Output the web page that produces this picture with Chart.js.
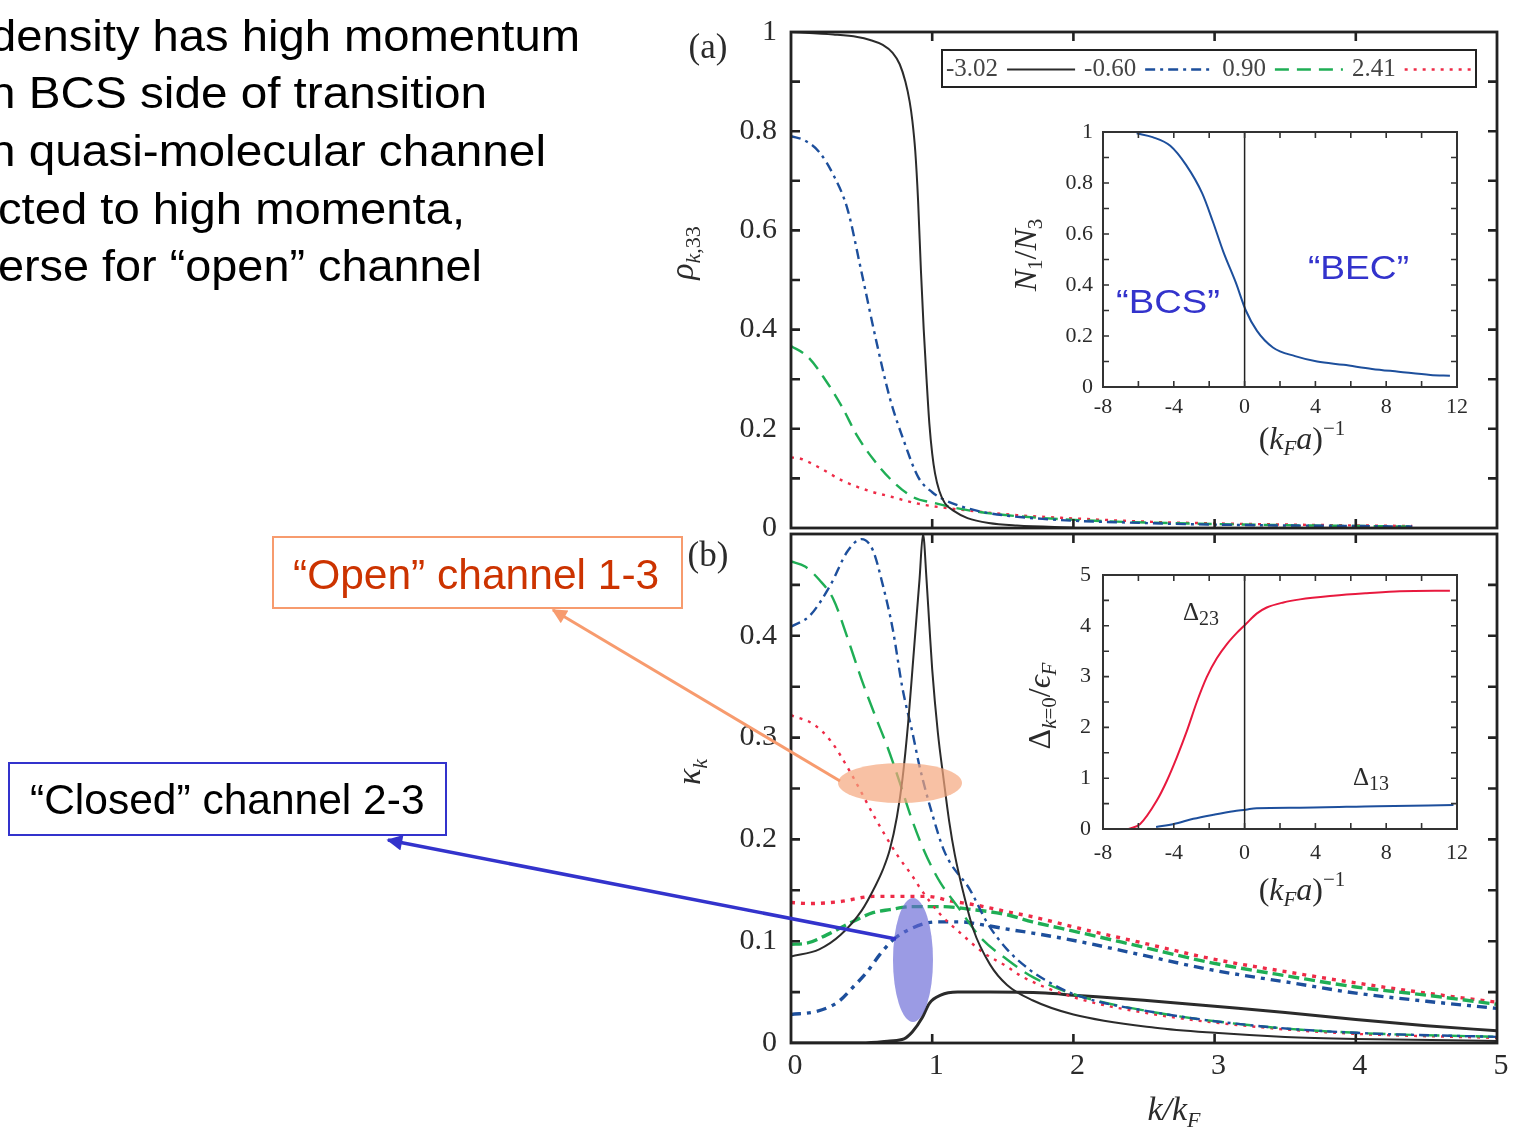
<!DOCTYPE html>
<html>
<head>
<meta charset="utf-8">
<title>Momentum distributions in the open and closed channels</title>
<script src="https://cdn.jsdelivr.net/npm/chart.js"></script>
<style>
  html, body { margin: 0; padding: 0; background: #fff; }
  body { width: 1518px; height: 1130px; position: relative; overflow: hidden; }
  canvas { position: absolute; }
  #overlay { position: absolute; left: 0; top: 0; }
</style>
</head>
<body>
<canvas id="panelA" width="918" height="560" style="left:600px;top:0px;width:918px;height:560px"></canvas>
<canvas id="panelB" width="918" height="630" style="left:600px;top:500px;width:918px;height:630px"></canvas>
<canvas id="insetA" width="510" height="370" style="left:980px;top:100px;width:510px;height:370px"></canvas>
<canvas id="insetB" width="510" height="370" style="left:980px;top:545px;width:510px;height:370px"></canvas>

<svg id="overlay" width="1518" height="1130" xmlns="http://www.w3.org/2000/svg">
  <defs>
    <marker id="headOrange" viewBox="0 0 10 10" refX="9" refY="5" markerWidth="5.5" markerHeight="5" orient="auto-start-reverse">
      <path d="M0,0 L10,5 L0,10 z" fill="#F79B6E"/>
    </marker>
    <marker id="headBlue" viewBox="0 0 10 10" refX="9" refY="5" markerWidth="5" markerHeight="4.5" orient="auto-start-reverse">
      <path d="M0,0 L10,5 L0,10 z" fill="#3333CC"/>
    </marker>
  </defs>

  <!-- slide text -->
  <g font-family="Liberation Sans, Arial, sans-serif" font-size="44.5" fill="#000">
    <text x="-10" y="51" textLength="590" lengthAdjust="spacingAndGlyphs">density has high momentum</text>
    <text x="-11" y="108" textLength="498" lengthAdjust="spacingAndGlyphs">n BCS side of transition</text>
    <text x="-11" y="166" textLength="557" lengthAdjust="spacingAndGlyphs">n quasi-molecular channel</text>
    <text x="-2" y="224" textLength="467" lengthAdjust="spacingAndGlyphs">cted to high momenta,</text>
    <text x="-2" y="281" textLength="484" lengthAdjust="spacingAndGlyphs">erse for “open” channel</text>
  </g>

  <!-- callout boxes -->
  <rect x="273" y="537" width="409" height="71" fill="#fff" stroke="#F79B6E" stroke-width="2"/>
  <text x="293" y="589" font-family="Liberation Sans, Arial, sans-serif" font-size="42.5" fill="#CC3300">“Open” channel 1-3</text>
  <rect x="9" y="763" width="437" height="72" fill="#fff" stroke="#3333CC" stroke-width="2"/>
  <text x="30" y="814" font-family="Liberation Sans, Arial, sans-serif" font-size="42.5" fill="#000">“Closed” channel 2-3</text>

  <!-- highlighted regions and pointers -->
  <ellipse cx="900" cy="783" rx="62" ry="20" fill="#F5A77E" fill-opacity="0.7"/>
  <ellipse cx="913" cy="960" rx="20" ry="62" fill="#6666D6" fill-opacity="0.65"/>
  <line x1="553" y1="610" x2="840" y2="781" stroke="#F79B6E" stroke-width="3" marker-start="url(#headOrange)"/>
  <line x1="388" y1="840" x2="896" y2="939" stroke="#3333CC" stroke-width="3.5" marker-start="url(#headBlue)"/>

  <!-- figure labels -->
  <g font-family="Liberation Serif, Times New Roman, serif" fill="#2b2b2b">
    <text x="708" y="58" font-size="35" text-anchor="middle">(a)</text>
    <text x="708" y="566" font-size="35" text-anchor="middle">(b)</text>
    <text transform="translate(693,253) rotate(-90)" text-anchor="middle" font-size="34"><tspan font-style="italic">ρ</tspan><tspan font-size="22" dy="7" font-style="italic">k</tspan><tspan font-size="22">,33</tspan></text>
    <text transform="translate(700,772) rotate(-90)" text-anchor="middle" font-size="34" font-style="italic">κ<tspan font-size="22" dy="7">k</tspan></text>
    <text x="1174" y="1120" text-anchor="middle" font-size="34" font-style="italic">k/k<tspan font-size="22" dy="7">F</tspan></text>

    <text transform="translate(1036,255) rotate(-90)" text-anchor="middle" font-size="32"><tspan font-style="italic">N</tspan><tspan font-size="21" dy="6">1</tspan><tspan dy="-6">/</tspan><tspan font-style="italic">N</tspan><tspan font-size="21" dy="6">3</tspan></text>
    <text x="1302" y="449" text-anchor="middle" font-size="32">(<tspan font-style="italic">k</tspan><tspan font-size="21" dy="6" font-style="italic">F</tspan><tspan dy="-6" font-style="italic">a</tspan>)<tspan font-size="21" dy="-14">−1</tspan></text>

    <text transform="translate(1050,706) rotate(-90)" text-anchor="middle" font-size="32">Δ<tspan font-size="21" dy="6" font-style="italic">k</tspan><tspan font-size="21">=0</tspan><tspan dy="-6">/</tspan><tspan font-style="italic">ϵ</tspan><tspan font-size="21" dy="6" font-style="italic">F</tspan></text>
    <text x="1302" y="900" text-anchor="middle" font-size="32">(<tspan font-style="italic">k</tspan><tspan font-size="21" dy="6" font-style="italic">F</tspan><tspan dy="-6" font-style="italic">a</tspan>)<tspan font-size="21" dy="-14">−1</tspan></text>

    <text x="1183" y="620" font-size="25">Δ<tspan font-size="20" dy="5">23</tspan></text>
    <text x="1353" y="785" font-size="25">Δ<tspan font-size="20" dy="5">13</tspan></text>
  </g>
  <g font-family="Liberation Sans, Arial, sans-serif" font-size="34" fill="#3333CC">
    <text x="1116" y="313" textLength="104" lengthAdjust="spacingAndGlyphs">“BCS”</text>
    <text x="1308" y="279" textLength="101" lengthAdjust="spacingAndGlyphs">“BEC”</text>
  </g>
</svg>

<script>
// ---------- (a) occupation rho_k,33 against k/k_F, one curve per (k_F a)^-1 ----------
const couplings = ['-3.02', '-0.60', '0.90', '2.41'];

const kA_m302 = [0, 0.3, 0.47, 0.56, 0.65, 0.72, 0.77, 0.81, 0.84, 0.86, 0.88, 0.9, 0.92, 0.94, 0.96, 0.98, 1.0, 1.02, 1.05, 1.09, 1.15, 1.25, 1.4, 1.6, 2.0];
const rhoA_m302 = [1.0, 0.995, 0.99, 0.984, 0.974, 0.958, 0.935, 0.9, 0.86, 0.82, 0.76, 0.66, 0.52, 0.4, 0.3, 0.21, 0.15, 0.11, 0.075, 0.05, 0.035, 0.02, 0.01, 0.005, 0.001];

const kA_m060 = [0, 0.1, 0.2, 0.3, 0.4, 0.5, 0.6, 0.7, 0.8, 0.9, 1.0, 1.1, 1.2, 1.4, 1.8, 2.5, 3.2, 4.0, 4.4];
const rhoA_m060 = [0.79, 0.781, 0.758, 0.712, 0.643, 0.515, 0.382, 0.262, 0.175, 0.103, 0.072, 0.055, 0.044, 0.03, 0.018, 0.01, 0.006, 0.004, 0.003];

const kA_p090 = [0, 0.12, 0.24, 0.36, 0.47, 0.59, 0.71, 0.86, 1.02, 1.25, 1.6, 2.2, 3.0, 3.7, 4.4];
const rhoA_p090 = [0.367, 0.345, 0.3, 0.245, 0.185, 0.136, 0.097, 0.063, 0.05, 0.036, 0.024, 0.014, 0.008, 0.005, 0.003];

const kA_p241 = [0, 0.05, 0.2, 0.36, 0.55, 0.71, 0.9, 1.14, 1.6, 2.1, 2.6, 3.5, 4.4];
const rhoA_p241 = [0.142, 0.141, 0.122, 0.096, 0.075, 0.063, 0.049, 0.039, 0.026, 0.018, 0.012, 0.007, 0.004];

// ---------- (b) kappa_k: open channel 1-3 (upper family) ----------
const kB_open_m302 = [0, 0.2, 0.35, 0.5, 0.6, 0.65, 0.7, 0.75, 0.79, 0.83, 0.86, 0.89, 0.91, 0.935, 0.96, 0.98, 1.0, 1.04, 1.08, 1.12, 1.16, 1.22, 1.29, 1.41, 1.53, 1.71, 2.0, 2.58, 3.0, 3.5, 4.0, 5.0];
const kapB_open_m302 = [0.085, 0.092, 0.106, 0.13, 0.155, 0.17, 0.19, 0.222, 0.26, 0.315, 0.367, 0.42, 0.455, 0.5, 0.455, 0.41, 0.367, 0.305, 0.26, 0.218, 0.185, 0.148, 0.112, 0.077, 0.057, 0.042, 0.028, 0.015, 0.01, 0.006, 0.004, 0.002];

const kB_open_m060 = [0, 0.135, 0.28, 0.4, 0.5, 0.58, 0.65, 0.72, 0.79, 0.86, 0.91, 1.0, 1.09, 1.27, 1.39, 1.53, 1.69, 1.8, 2.0, 2.58, 3.36, 4.0, 5.0];
const kapB_open_m060 = [0.409, 0.42, 0.45, 0.483, 0.495, 0.484, 0.45, 0.407, 0.348, 0.305, 0.272, 0.225, 0.187, 0.15, 0.118, 0.092, 0.072, 0.062, 0.048, 0.03, 0.016, 0.01, 0.006];

const kB_open_p090 = [0, 0.1, 0.2, 0.3, 0.4, 0.5, 0.6, 0.68, 0.77, 0.85, 0.93, 1.0, 1.06, 1.18, 1.34, 1.53, 1.71, 2.0, 2.58, 3.36, 4.0, 5.0];
const kapB_open_p090 = [0.473, 0.468, 0.455, 0.436, 0.398, 0.357, 0.32, 0.292, 0.256, 0.222, 0.193, 0.172, 0.157, 0.134, 0.104, 0.082, 0.065, 0.048, 0.03, 0.016, 0.01, 0.006];

const kB_open_p241 = [0, 0.16, 0.28, 0.42, 0.6, 0.76, 0.86, 0.91, 1.06, 1.2, 1.36, 1.53, 1.64, 2.0, 2.58, 3.36, 4.0, 5.0];
const kapB_open_p241 = [0.322, 0.313, 0.297, 0.266, 0.22, 0.183, 0.164, 0.153, 0.126, 0.108, 0.089, 0.075, 0.065, 0.045, 0.028, 0.015, 0.009, 0.005];

// ---------- (b) kappa_k: closed channel 2-3 (lower family) ----------
const kB_closed_m302 = [0, 0.5, 0.7, 0.8, 0.86, 0.93, 0.98, 1.06, 1.18, 1.41, 1.8, 2.0, 2.5, 3.0, 3.5, 4.0, 4.5, 5.0];
const kapB_closed_m302 = [0, 0, 0.002, 0.004, 0.011, 0.025, 0.039, 0.047, 0.05, 0.05, 0.049, 0.047, 0.042, 0.036, 0.03, 0.023, 0.017, 0.012];

const kB_closed_m060 = [0, 0.18, 0.33, 0.44, 0.54, 0.63, 0.72, 0.86, 1.03, 1.2, 1.36, 1.57, 1.71, 2.03, 2.5, 2.97, 3.55, 4.0, 4.5, 5.0];
const kapB_closed_m060 = [0.028, 0.031, 0.04, 0.055, 0.07, 0.087, 0.101, 0.113, 0.119, 0.119, 0.116, 0.111, 0.108, 0.1, 0.086, 0.072, 0.059, 0.049, 0.041, 0.034];

const kB_closed_p090 = [0, 0.11, 0.25, 0.42, 0.58, 0.7, 0.86, 1.06, 1.29, 1.53, 1.71, 2.03, 2.5, 2.97, 3.55, 4.0, 4.5, 5.0];
const kapB_closed_p090 = [0.097, 0.098, 0.106, 0.118, 0.128, 0.131, 0.134, 0.134, 0.131, 0.126, 0.119, 0.109, 0.094, 0.079, 0.065, 0.055, 0.047, 0.038];

const kB_closed_p241 = [0, 0.135, 0.35, 0.58, 0.75, 0.96, 1.15, 1.29, 1.53, 1.71, 2.03, 2.5, 2.97, 3.55, 4.0, 4.5, 5.0];
const kapB_closed_p241 = [0.138, 0.137, 0.139, 0.144, 0.144, 0.144, 0.139, 0.136, 0.129, 0.124, 0.113, 0.098, 0.083, 0.069, 0.059, 0.049, 0.04];

// ---------- insets: against (k_F a)^-1 ----------
const invKaN = [-6.1, -5.2, -4.2, -3.3, -2.4, -1.8, -1.2, -0.5, 0.07, 0.7, 1.6, 2.85, 4.1, 5.6, 7.2, 8.7, 10.5, 11.6];
const ratioN1N3 = [0.995, 0.98, 0.946, 0.87, 0.76, 0.65, 0.53, 0.41, 0.3, 0.22, 0.155, 0.121, 0.1, 0.087, 0.071, 0.06, 0.047, 0.044];

const invKaD23 = [-6.55, -5.9, -4.96, -4.39, -3.83, -3.26, -2.7, -2.14, -1.57, -1.0, -0.44, 0.06, 0.68, 1.25, 2.19, 3.13, 5.0, 6.89, 8.77, 11.6];
const gap23 = [0, 0.1, 0.56, 0.95, 1.41, 1.93, 2.5, 2.99, 3.36, 3.64, 3.86, 4.03, 4.24, 4.36, 4.46, 4.52, 4.59, 4.64, 4.68, 4.69];

const invKaD13 = [-5.0, -4.0, -2.9, -1.76, -0.63, 0.06, 0.68, 3.13, 7.5, 11.8];
const gap13 = [0.04, 0.1, 0.2, 0.28, 0.35, 0.38, 0.41, 0.42, 0.45, 0.47];

// unitary point (k_F a)^-1 = 0 marker lines
const unitaryX = [0, 0];
const unitaryYa = [0, 1];
const unitaryYb = [0, 5];

// ---------- styling ----------
const COL = { black: '#2b2b2b', blue: '#1d4f9c', green: '#1fae55', red: '#ee2b47', frame: '#222' };
const SERIF = 'Liberation Serif, Times New Roman, serif';

const styleA = [
  { borderColor: COL.black, borderWidth: 2, borderDash: [] },
  { borderColor: COL.blue, borderWidth: 2.4, borderDash: [10, 5, 3, 5] },
  { borderColor: COL.green, borderWidth: 2.4, borderDash: [14, 8] },
  { borderColor: COL.red, borderWidth: 2.4, borderDash: [3, 6] }
];
const styleClosed = [
  { borderColor: COL.black, borderWidth: 3, borderDash: [] },
  { borderColor: COL.blue, borderWidth: 3.4, borderDash: [10, 6, 4, 6] },
  { borderColor: COL.green, borderWidth: 3.4, borderDash: [11, 5] },
  { borderColor: COL.red, borderWidth: 3.4, borderDash: [4, 6] }
];

function series(label, xs, ys, style) {
  return Object.assign({
    label,
    data: xs.map((x, i) => ({ x, y: ys[i] })),
    pointRadius: 0,
    fill: false,
    cubicInterpolationMode: 'monotone'
  }, style);
}

function steps(from, to, step) {
  const out = [];
  for (let i = 0; from + i * step <= to + 1e-9; i++) out.push(+(from + i * step).toFixed(4));
  return out;
}

// frame around the plot area with inward tick marks on all four sides
const framePlugin = {
  id: 'frame',
  afterDatasetsDraw(chart, args, o) {
    const { ctx, chartArea: a } = chart;
    const xs = chart.scales.x, ys = chart.scales.y;
    ctx.save();
    ctx.setLineDash([]);
    ctx.strokeStyle = o.color;
    ctx.lineWidth = o.width;
    ctx.strokeRect(a.left, a.top, a.right - a.left, a.bottom - a.top);
    ctx.lineWidth = o.tickWidth;
    ctx.beginPath();
    o.xTicks.forEach(v => {
      const p = xs.getPixelForValue(v);
      ctx.moveTo(p, a.bottom); ctx.lineTo(p, a.bottom - o.len);
      ctx.moveTo(p, a.top); ctx.lineTo(p, a.top + o.len);
    });
    o.yTicks.forEach(v => {
      const p = ys.getPixelForValue(v);
      ctx.moveTo(a.left, p); ctx.lineTo(a.left + o.len, p);
      ctx.moveTo(a.right, p); ctx.lineTo(a.right - o.len, p);
    });
    ctx.stroke();
    ctx.restore();
  }
};

// single-row boxed legend: label followed by a sample of the line style
const rowLegend = {
  id: 'rowLegend',
  afterDraw(chart, args, o) {
    const ctx = chart.ctx;
    ctx.save();
    ctx.strokeStyle = COL.frame;
    ctx.lineWidth = 2;
    ctx.setLineDash([]);
    ctx.strokeRect(o.x, o.y, o.w, o.h);
    ctx.font = o.font;
    ctx.fillStyle = o.color;
    ctx.textBaseline = 'middle';
    const cy = o.y + o.h / 2 + 1;
    let cx = o.x + 4;
    chart.data.datasets.forEach(ds => {
      ctx.fillText(ds.label, cx, cy);
      cx += ctx.measureText(ds.label).width + o.gap;
      ctx.beginPath();
      ctx.setLineDash(ds.borderDash || []);
      ctx.strokeStyle = ds.borderColor;
      ctx.lineWidth = ds.borderWidth;
      ctx.moveTo(cx, cy);
      ctx.lineTo(cx + o.sample, cy);
      ctx.stroke();
      cx += o.sample + o.gap;
    });
    ctx.restore();
  }
};

const decimalTick = v => {
  const r = Math.round(v * 100) / 100;
  if (r === 0) return '0';
  if (Number.isInteger(r)) return String(r);
  return r.toFixed(1);
};

function baseOptions(pad) {
  return {
    responsive: false,
    animation: false,
    devicePixelRatio: 1,
    events: [],
    layout: { padding: pad },
    plugins: { legend: { display: false }, tooltip: { enabled: false } }
  };
}

function axisY(min, max, step, width, fontSize, pad, cb) {
  return {
    type: 'linear', min, max,
    afterFit: s => { s.width = width; },
    grid: { display: false, drawTicks: false },
    border: { display: false },
    ticks: { stepSize: step, padding: pad, color: '#2b2b2b', font: { family: SERIF, size: fontSize }, callback: cb, autoSkip: false }
  };
}
function axisX(min, max, step, height, fontSize, pad, offset) {
  return {
    type: 'linear', min, max,
    afterFit: s => { s.height = height; },
    grid: { display: false, drawTicks: false },
    border: { display: false },
    ticks: { stepSize: step, padding: pad, labelOffset: offset, color: '#2b2b2b', font: { family: SERIF, size: fontSize }, autoSkip: false, maxRotation: 0,
             callback: v => String(Math.round(v)) }
  };
}

// ---------- panel (a) ----------
const dataA = [
  series(couplings[0], kA_m302, rhoA_m302, styleA[0]),
  series(couplings[1], kA_m060, rhoA_m060, styleA[1]),
  series(couplings[2], kA_p090, rhoA_p090, styleA[2]),
  series(couplings[3], kA_p241, rhoA_p241, styleA[3])
];
const optA = baseOptions({ top: 27, right: 21, bottom: 27, left: 0 });
optA.scales = {
  x: { type: 'linear', min: 0, max: 5, display: false },
  y: axisY(0, 1, 0.2, 191, 30, 14, decimalTick)
};
optA.plugins.frame = { color: COL.frame, width: 2.8, tickWidth: 2.6, len: 9, xTicks: [1, 2, 3, 4], yTicks: steps(0.1, 0.9, 0.1) };
optA.plugins.rowLegend = { x: 342, y: 50, w: 534, h: 37, font: '25px ' + SERIF, color: '#444', gap: 9, sample: 68 };
new Chart(document.getElementById('panelA'), { type: 'line', data: { datasets: dataA }, options: optA, plugins: [framePlugin, rowLegend] });

// ---------- panel (b) ----------
const dataB = [
  series(couplings[0] + ' open', kB_open_m302, kapB_open_m302, { borderColor: COL.black, borderWidth: 2, borderDash: [] }),
  series(couplings[1] + ' open', kB_open_m060, kapB_open_m060, styleA[1]),
  series(couplings[2] + ' open', kB_open_p090, kapB_open_p090, { borderColor: COL.green, borderWidth: 2.4, borderDash: [18, 9] }),
  series(couplings[3] + ' open', kB_open_p241, kapB_open_p241, styleA[3]),
  series(couplings[0] + ' closed', kB_closed_m302, kapB_closed_m302, styleClosed[0]),
  series(couplings[1] + ' closed', kB_closed_m060, kapB_closed_m060, styleClosed[1]),
  series(couplings[2] + ' closed', kB_closed_p090, kapB_closed_p090, styleClosed[2]),
  series(couplings[3] + ' closed', kB_closed_p241, kapB_closed_p241, styleClosed[3])
];
const optB = baseOptions({ top: 34, right: 21, bottom: 0, left: 0 });
optB.scales = {
  x: axisX(0, 5, 1, 87, 30, 5, 4),
  y: axisY(0, 0.5, 0.1, 191, 30, 14, v => (v > 0.45 ? null : decimalTick(v)))
};
optB.plugins.frame = { color: COL.frame, width: 2.8, tickWidth: 2.6, len: 9, xTicks: [1, 2, 3, 4], yTicks: steps(0.05, 0.45, 0.05) };
new Chart(document.getElementById('panelB'), { type: 'line', data: { datasets: dataB }, options: optB, plugins: [framePlugin] });

// ---------- inset of (a): N1/N3 ----------
const optIA = baseOptions({ top: 32, right: 33, bottom: 0, left: 0 });
optIA.scales = {
  x: axisX(-8, 12, 4, 83, 22, 7, 0),
  y: axisY(0, 1, 0.2, 123, 22, 10, decimalTick)
};
optIA.plugins.frame = { color: '#333', width: 2, tickWidth: 1.6, len: 6, xTicks: steps(-6, 10, 2), yTicks: steps(0.1, 0.9, 0.1) };
new Chart(document.getElementById('insetA'), {
  type: 'line',
  data: { datasets: [
    series('unitarity', unitaryX, unitaryYa, { borderColor: '#222', borderWidth: 1.5, cubicInterpolationMode: 'default' }),
    series('N1/N3', invKaN, ratioN1N3, { borderColor: COL.blue, borderWidth: 2 })
  ] },
  options: optIA,
  plugins: [framePlugin]
});

// ---------- inset of (b): gaps at k = 0 ----------
const optIB = baseOptions({ top: 30, right: 33, bottom: 0, left: 0 });
optIB.scales = {
  x: axisX(-8, 12, 4, 86, 22, 11, 0),
  y: axisY(0, 5, 1, 123, 22, 12, decimalTick)
};
optIB.plugins.frame = { color: '#333', width: 2, tickWidth: 1.6, len: 6, xTicks: steps(-6, 10, 2), yTicks: steps(0.5, 4.5, 0.5) };
new Chart(document.getElementById('insetB'), {
  type: 'line',
  data: { datasets: [
    series('unitarity', unitaryX, unitaryYb, { borderColor: '#222', borderWidth: 1.5, cubicInterpolationMode: 'default' }),
    series('Delta23', invKaD23, gap23, { borderColor: '#e8193e', borderWidth: 2 }),
    series('Delta13', invKaD13, gap13, { borderColor: COL.blue, borderWidth: 2 })
  ] },
  options: optIB,
  plugins: [framePlugin]
});
</script>
</body>
</html>
